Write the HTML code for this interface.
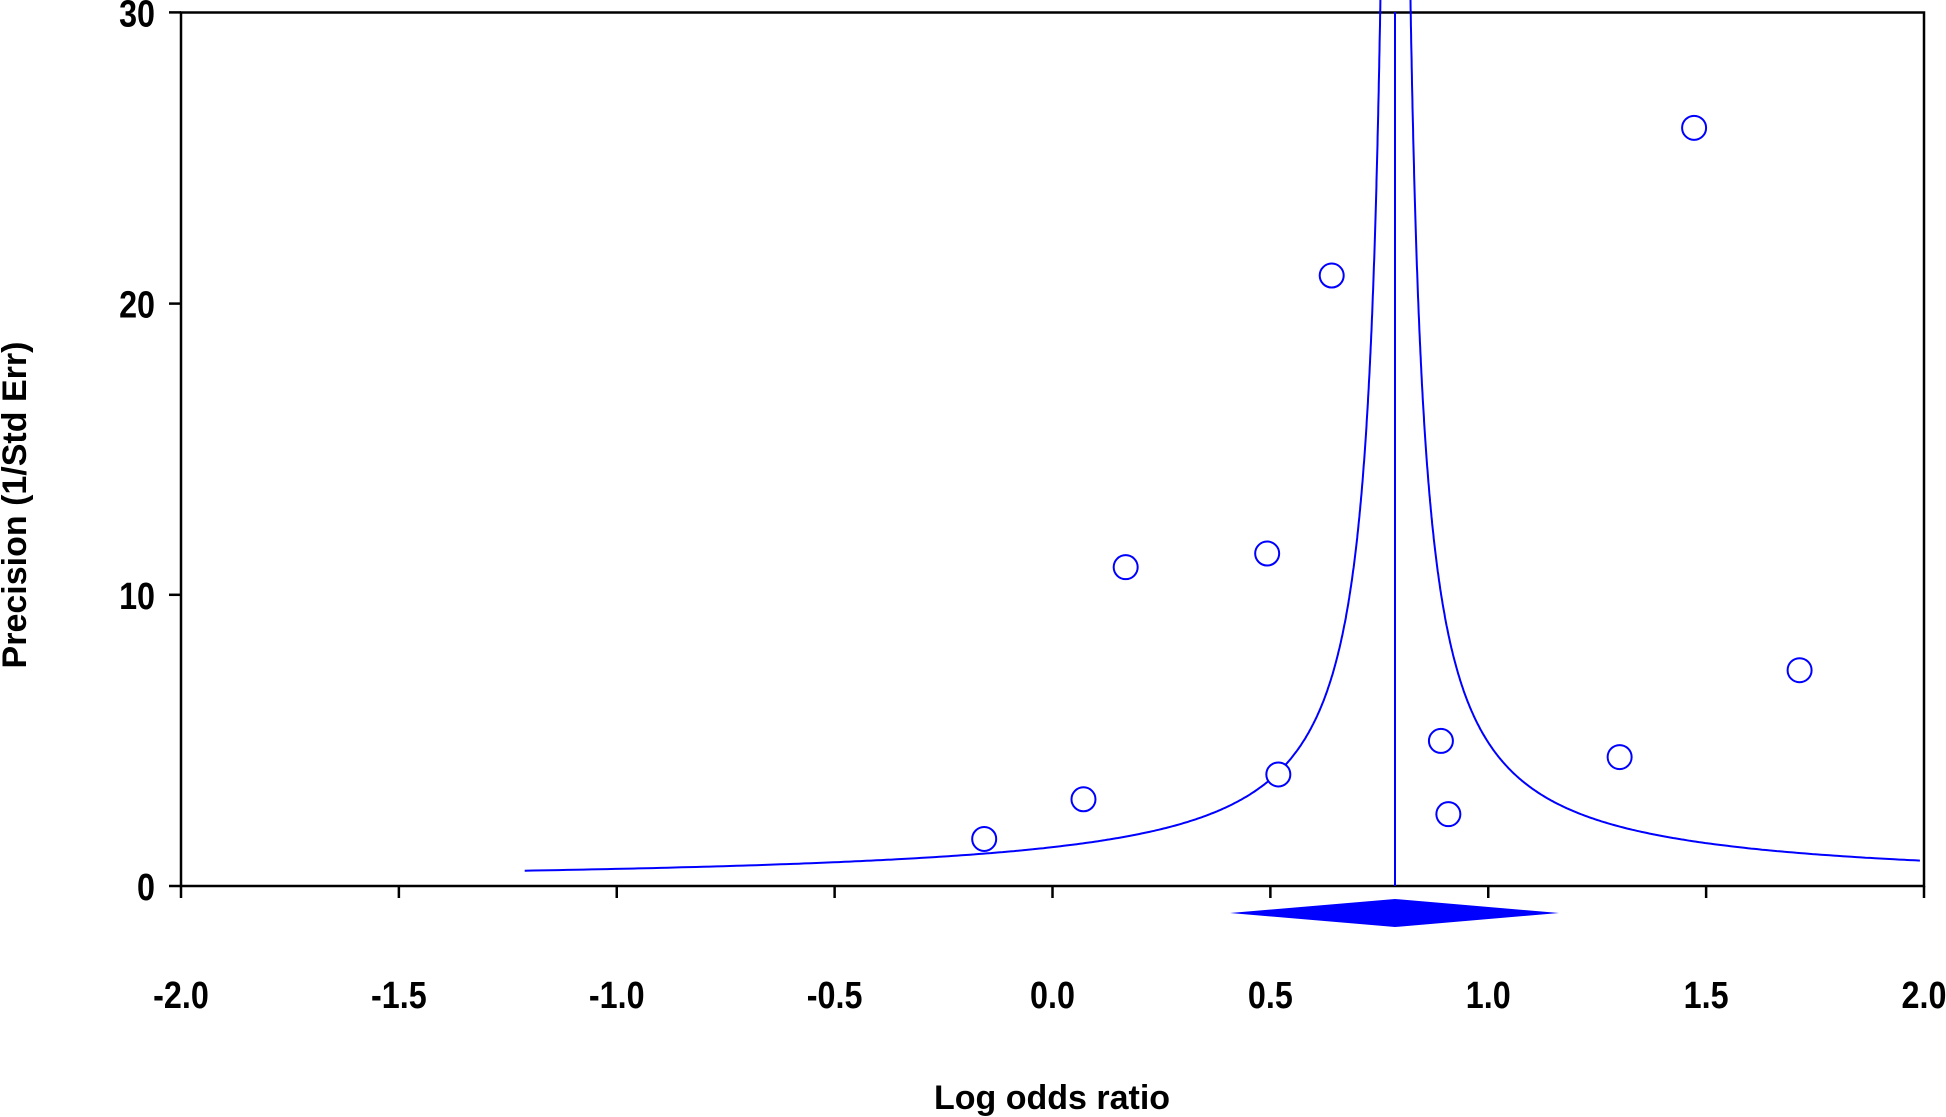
<!DOCTYPE html>
<html><head><meta charset="utf-8"><style>
html,body{margin:0;padding:0;background:#fff;}
svg{display:block;}
text{font-family:"Liberation Sans",Arial,sans-serif;font-weight:bold;fill:#000;}
</style></head><body>
<svg id="s" width="1946" height="1117" viewBox="0 0 1946 1117" xmlns="http://www.w3.org/2000/svg">
<rect x="181" y="12.5" width="1743" height="873.5" fill="none" stroke="#000" stroke-width="2.5"/>
<g id="ticks" stroke="#000" stroke-width="2.5"></g>
<g id="lab" font-size="38"></g>
<path id="fl" fill="none" stroke="#0000ff" stroke-width="2"/>
<path id="fr" fill="none" stroke="#0000ff" stroke-width="2"/>
<line x1="1395" y1="12" x2="1395" y2="886" stroke="#0000ff" stroke-width="2"/>
<polygon points="1230,913 1395,899 1559,913 1395,927" fill="#0000ff"/>
<g id="pts" fill="#fff" stroke="#0000ff" stroke-width="2"></g>
<text x="1052" y="1109" font-size="34" text-anchor="middle">Log odds ratio</text>
<text transform="translate(26,505) rotate(-90)" font-size="34" text-anchor="middle">Precision (1/Std Err)</text>
</svg>
<script>
var NS="http://www.w3.org/2000/svg";
function X(v){return 181+(v+2)*435.75;}
function Y(p){return 886-p*29.12;}
function el(n,a,par,t){var e=document.createElementNS(NS,n);for(var k in a)e.setAttribute(k,a[k]);if(t)e.textContent=t;document.getElementById(par).appendChild(e);}
for(var i=0;i<=8;i++){var v=-2+i*0.5,x=X(v);
 el("line",{x1:x,y1:886,x2:x,y2:898},"ticks");
 el("text",{x:x,y:1008,"text-anchor":"middle",transform:"translate("+x+",0) scale(0.85,1) translate("+(-x)+",0)"},"lab",v.toFixed(1));}
[0,10,20,30].forEach(function(p){var y=Y(p);
 el("line",{x1:169,y1:y,x2:181,y2:y},"ticks");
 el("text",{x:155,y:y+14,"text-anchor":"end",transform:"translate(155,0) scale(0.85,1) translate(-155,0)"},"lab",String(p));});
var c=0.787,z=1.05,dl="",dr="";
for(var p=0.51;p<=30.5;p*=1.01){var xl=c-z/p;if(xl>=-1.22)dl+=(dl?"L":"M")+X(xl).toFixed(1)+","+Y(p).toFixed(1);}
for(var p=0.52;p<=30.5;p*=1.01){var xr=c+z/p;if(xr<=2.0)dr+=(dr?"L":"M")+X(xr).toFixed(1)+","+Y(p).toFixed(1);}
document.getElementById("fl").setAttribute("d",dl);
document.getElementById("fr").setAttribute("d",dr);
var pts=[[793,676],[873,644],[907,457],[1021,446],[1030,624],[1073,222],[1161,597],[1167,656],[1305,610],[1365,103],[1450,540]];
pts.forEach(function(q){el("circle",{cx:q[0]*1.2411,cy:q[1]*1.2411,r:12},"pts");});
</script>
</body></html>
